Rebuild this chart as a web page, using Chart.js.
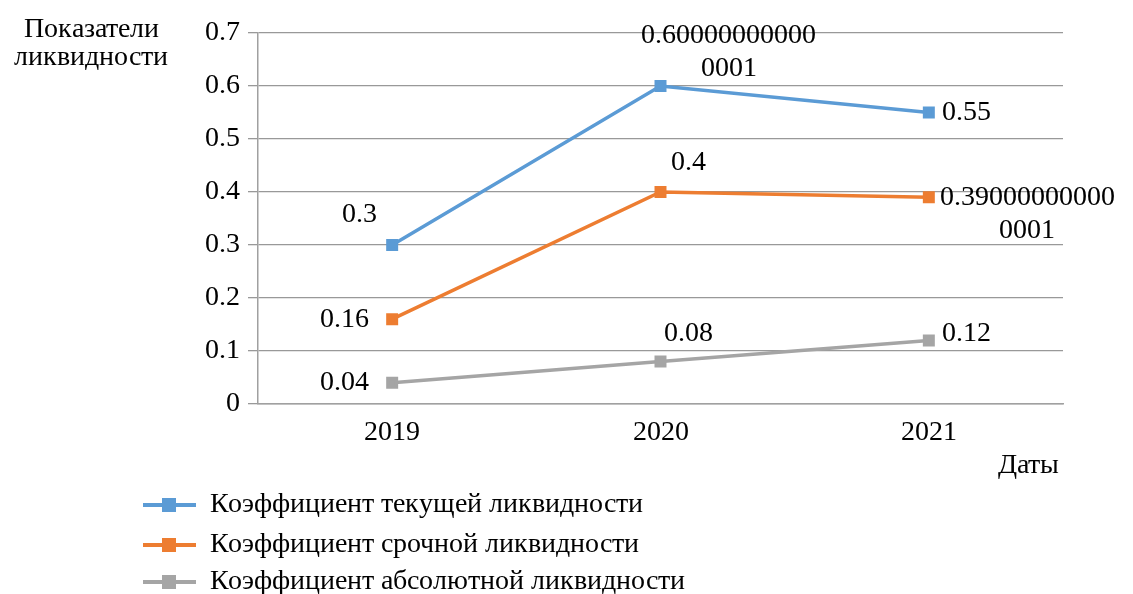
<!DOCTYPE html>
<html><head><meta charset="utf-8">
<script src="https://cdn.jsdelivr.net/npm/chart.js@4/dist/chart.umd.min.js"></script>
<style>
@font-face{font-family:'RefSerif';src:local('Liberation Serif'),local('LiberationSerif'),local('Liberation Serif Regular'),local('LiberationSerif-Regular');font-weight:400;font-style:normal;}
html,body{margin:0;padding:0;background:#fff}
#wrap{width:1133px;height:594px;position:relative}
#warm{position:absolute;left:0;top:0;font:28px RefSerif;color:#fff;z-index:-1}
</style>
</head><body><div id="wrap"><div id="warm">Показатели 0.123456789</div><canvas id="c" width="1133" height="594"></canvas></div>
<script>
const categories = ['2019','2020','2021'];
const seriesNames = ['Коэффициент текущей ликвидности','Коэффициент срочной ликвидности','Коэффициент абсолютной ликвидности'];
const currentRatio = [0.3, 0.600000000000001, 0.55];
const quickRatio = [0.16, 0.4, 0.390000000000001];
const absoluteRatio = [0.04, 0.08, 0.12];
const currentLabels = [['0.3'], ['0.60000000000','0001'], ['0.55']];
const quickLabels = [['0.16'], ['0.4'], ['0.39000000000','0001']];
const absoluteLabels = [['0.04'], ['0.08'], ['0.12']];
const yTitle = ['Показатели','ликвидности'];
const xTitle = 'Даты';
const colors = ['#5B9BD5','#ED7D31','#A5A5A5'];
const FAMILY = 'RefSerif, "Liberation Serif", serif';
const SIZE = 28;

// label placement: [dx, dy, align] relative to point
const placements = [
  [[-33,-30,'center'],[68,-50,'center'],[13,0,'left']],
  [[-48,0,'center'],[28,-29,'center'],[11,0,'left']],
  [[-48,0,'center'],[28,-28,'center'],[13,-7,'left']]
];
const allLabels = [currentLabels, quickLabels, absoluteLabels];

const labelPlugin = {
  id:'valueLabels',
  afterDatasetsDraw(chart){
    const ctx = chart.ctx;
    ctx.save();
    ctx.font = SIZE+'px '+FAMILY;
    ctx.fillStyle = '#000';
    ctx.textBaseline = 'middle';
    chart.data.datasets.forEach((ds,i)=>{
      const meta = chart.getDatasetMeta(i);
      meta.data.forEach((pt,j)=>{
        const [dx,dy,al] = placements[i][j];
        const lines = allLabels[i][j];
        const lh = 33;
        let cx = pt.x+dx;
        if(al==='left' && lines.length>1){
          const w = ctx.measureText(lines[0]).width;
          cx = pt.x+dx+w/2;
        }
        ctx.textAlign = (al==='left' && lines.length>1)?'center':al;
        lines.forEach((t,k)=>{
          ctx.fillText(t, cx, pt.y+dy+k*lh);
        });
      });
    });
    ctx.restore();
  },
  afterDraw(chart){
    const ctx = chart.ctx;
    ctx.save();
    ctx.font = SIZE+'px '+FAMILY;
    ctx.fillStyle = '#000';
    ctx.textBaseline = 'middle';
    ctx.textAlign = 'center';
    ctx.fillText(yTitle[0], 91, 30);
    ctx.fillText(yTitle[1], 91, 58);
    ctx.fillText(xTitle, 1028, 466);
    ctx.textAlign = 'left';
    const rows = [505,545,582];
    chart.data.datasets.forEach((ds,i)=>{
      const y = rows[i];
      ctx.strokeStyle = ds.borderColor;
      ctx.lineWidth = 4;
      ctx.beginPath(); ctx.moveTo(143,y); ctx.lineTo(196,y); ctx.stroke();
      ctx.fillStyle = ds.borderColor;
      ctx.fillRect(162,y-7,14,14);
      ctx.fillStyle = '#000';
      ctx.fillText(ds.label, 210, y);
    });
    ctx.restore();
  }
};

function build(){
  Chart.defaults.font.family = FAMILY;
  new Chart(document.getElementById('c'),{
    type:'line',
    data:{
      labels:categories,
      datasets:[
        {label:seriesNames[0],data:currentRatio,borderColor:colors[0],backgroundColor:colors[0]},
        {label:seriesNames[1],data:quickRatio,borderColor:colors[1],backgroundColor:colors[1]},
        {label:seriesNames[2],data:absoluteRatio,borderColor:colors[2],backgroundColor:colors[2]}
      ].map(d=>Object.assign(d,{borderWidth:3.5,pointStyle:'rect',pointRadius:6,pointHoverRadius:6,tension:0,fill:false}))
    },
    options:{
      responsive:false,animation:false,
      layout:{padding:{left:0,top:33,right:70,bottom:0}},
      plugins:{legend:{display:false},tooltip:{enabled:false}},
      scales:{
        x:{
          offset:true,
          grid:{display:false,drawTicks:false},
          border:{display:true,color:'#a0a0a0',width:1.5},
          ticks:{font:{family:FAMILY,size:SIZE},color:'#000',padding:12},
          afterFit(s){s.height=190;}
        },
        y:{
          min:0,max:0.7,
          grid:{color:'#999',lineWidth:1.3,tickLength:10,drawTicks:true,tickColor:'#999'},
          border:{display:true,color:'#a0a0a0',width:1.5},
          ticks:{stepSize:0.1,font:{family:FAMILY,size:SIZE},color:'#000',padding:8,
            callback:(v)=>String(Math.round(v*10)/10)},
          afterFit(s){s.width=258;}
        }
      }
    },
    plugins:[labelPlugin]
  });
}
if (document.fonts && document.fonts.load) {
  document.fonts.load('28px RefSerif').then(build, build);
} else build();
</script></body></html>
